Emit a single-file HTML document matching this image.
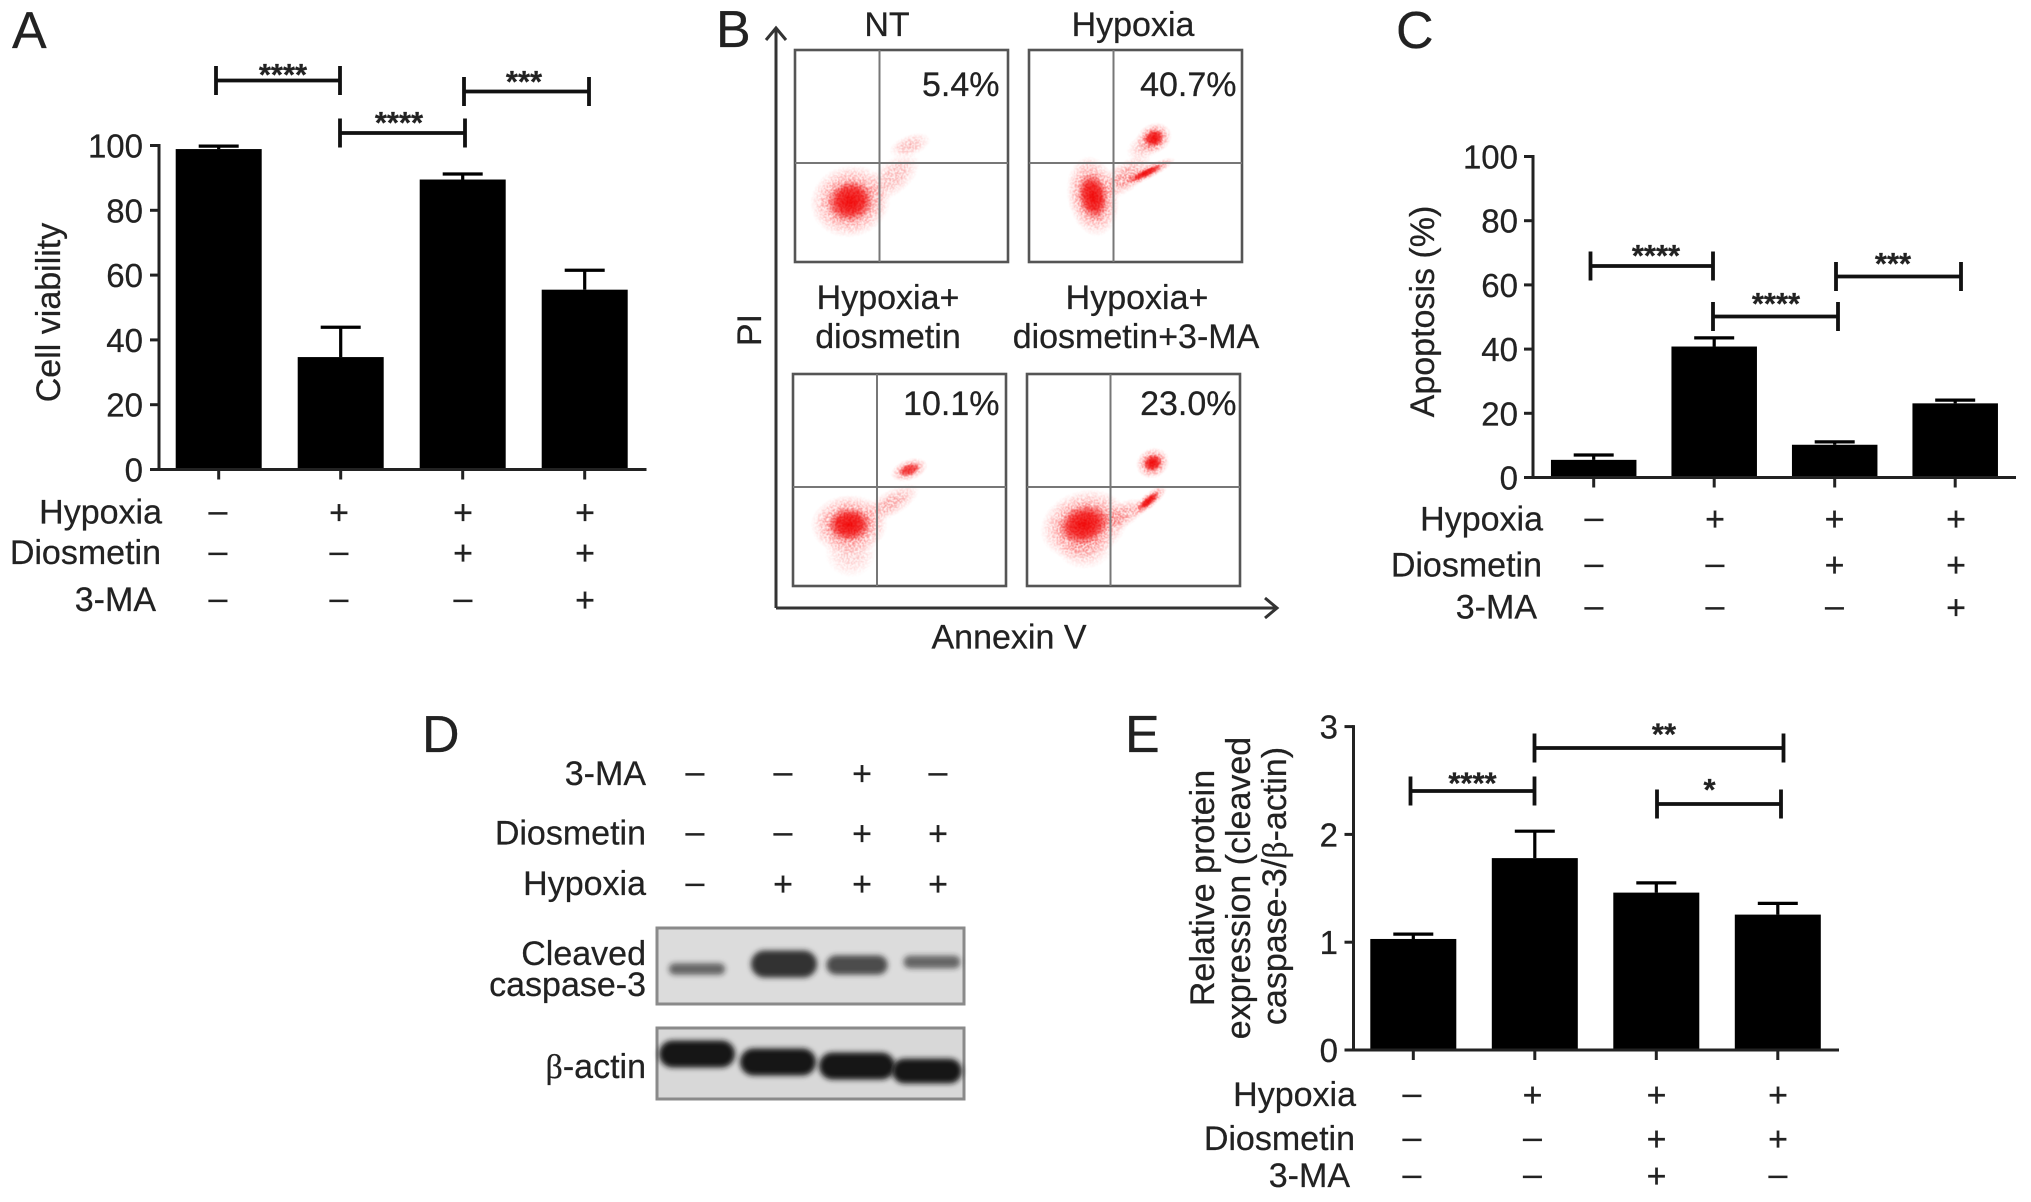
<!DOCTYPE html>
<html lang="en">
<head>
<meta charset="utf-8">
<title>Diosmetin hypoxia figure</title>
<style>
html,body{margin:0;padding:0;background:#fff;}
svg{display:block;}
text{font-family:"Liberation Sans",Arial,sans-serif;fill:#222;font-size:34px;stroke:#222;stroke-width:.25;}
.letter{font-size:52px;}
.tick{font-size:33px;text-anchor:end;}
.end{text-anchor:end;}
.mid{text-anchor:middle;}
.stars{font-size:31px;font-weight:bold;text-anchor:middle;}
.br{stroke:#111;stroke-width:3.8;fill:none;}
.gate{fill:none;stroke:#555;stroke-width:2.6;}
.cross{stroke:#777;stroke-width:2;}
.arrow{stroke:#333;stroke-width:3;fill:none;}
</style>
</head>
<body>
<svg id="figure" xmlns="http://www.w3.org/2000/svg" width="2031" height="1202" viewBox="0 0 2031 1202">
<defs>
<radialGradient id="cloud"><stop offset="0" stop-color="#f00a0a" stop-opacity="1"/><stop offset=".4" stop-color="#f00a0a" stop-opacity=".8"/><stop offset=".72" stop-color="#f22" stop-opacity=".4"/><stop offset="1" stop-color="#f44" stop-opacity="0"/></radialGradient>
<radialGradient id="cloudcore"><stop offset="0" stop-color="#f00000" stop-opacity="1"/><stop offset=".55" stop-color="#f00808" stop-opacity=".8"/><stop offset="1" stop-color="#f01010" stop-opacity="0"/></radialGradient>
<filter id="speckle" x="-10%" y="-10%" width="120%" height="120%">
<feTurbulence type="fractalNoise" baseFrequency="0.7" numOctaves="2" seed="4" result="n"/>
<feColorMatrix in="n" type="matrix" values="0 0 0 0 0 0 0 0 0 0 0 0 0 0 0 0 0 0 14 -6.6" result="m"/>
<feComposite in="SourceGraphic" in2="m" operator="in"/>
<feGaussianBlur stdDeviation="0.45"/>
</filter>
<filter id="blur" x="-30%" y="-80%" width="160%" height="260%"><feGaussianBlur stdDeviation="2.6"/></filter>
</defs>

<text class="letter" x="12" y="48">A</text>
<text class="letter" x="716" y="47">B</text>
<text class="letter" x="1396" y="48">C</text>
<text class="letter" x="422" y="752">D</text>
<text class="letter" x="1125" y="752">E</text>

<!-- Panel A -->
<g id="panel-a">
<text transform="rotate(-90 60 312.500)" x="60" y="312.500" class="mid">Cell viability</text>
<text class="end" x="162" y="523.400">Hypoxia</text>
<text class="end" x="161" y="564">Diosmetin</text>
<text class="end" x="156" y="611">3-MA</text>
<g><path class="br" d="M216 66V95M216 80.500H340M340 66V95"/><text class="stars" x="283" y="85">****</text></g>
<g><path class="br" d="M340 118.500V147.500M340 133H465M465 118.500V147.500"/><text class="stars" x="399" y="133">****</text></g>
<g><path class="br" d="M464 77V106M464 91.500H589M589 77V106"/><text class="stars" x="524" y="92">***</text></g>
</g>

<!-- Panel B -->
<g id="panel-b">
<path class="arrow" d="M776 608V28M766 40L776 28L786 40"/>
<path class="arrow" d="M776 608H1277M1265 598L1277 608L1265 618"/>
<text transform="rotate(-90 761 330)" x="761" y="330" class="mid">PI</text>
<text class="mid" x="1009" y="648.500">Annexin V</text>
<text class="mid" x="887" y="36">NT</text>
<text class="mid" x="1133" y="36">Hypoxia</text>
<text class="mid" x="888" y="309">Hypoxia+</text>
<text class="mid" x="888" y="348">diosmetin</text>
<text class="mid" x="1137" y="309">Hypoxia+</text>
<text class="mid" x="1136" y="348">diosmetin+3-MA</text>
<g id="clouds"></g>
<g><rect class="gate" x="795" y="50" width="213" height="212"/><path class="cross" d="M879.500 50V262M795 163H1008"/></g>
<g><rect class="gate" x="1029" y="50" width="213" height="212"/><path class="cross" d="M1113.500 50V262M1029 163H1242"/></g>
<g><rect class="gate" x="793" y="374" width="213" height="212"/><path class="cross" d="M877 374V586M793 487H1006"/></g>
<g><rect class="gate" x="1027" y="374" width="213" height="212"/><path class="cross" d="M1110.500 374V586M1027 487H1240"/></g>
<text class="end" x="999.500" y="96">5.4%</text>
<text class="end" x="1236.500" y="96">40.7%</text>
<text class="end" x="999.500" y="415">10.1%</text>
<text class="end" x="1236.500" y="415">23.0%</text>
</g>

<!-- Panel C -->
<g id="panel-c">
<text transform="rotate(-90 1434 311.500)" x="1434" y="311.500" class="mid">Apoptosis (%)</text>
<text class="end" x="1543" y="530.500">Hypoxia</text>
<text class="end" x="1542" y="576.500">Diosmetin</text>
<text class="end" x="1537" y="618.500">3-MA</text>
<g><path class="br" d="M1590.500 251.500V280.500M1590.500 266H1713M1713 251.500V280.500"/><text class="stars" x="1656" y="266">****</text></g>
<g><path class="br" d="M1713 302V331M1713 316.500H1838M1838 302V331"/><text class="stars" x="1776" y="314">****</text></g>
<g><path class="br" d="M1836 262V291M1836 276.500H1961M1961 262V291"/><text class="stars" x="1893" y="274">***</text></g>
</g>

<!-- Panel D -->
<g id="panel-d">
<text class="end" x="646" y="785">3-MA</text>
<text class="end" x="646" y="844.500">Diosmetin</text>
<text class="end" x="646" y="895">Hypoxia</text>
<text class="end" x="646" y="965">Cleaved</text>
<text class="end" x="646" y="996">caspase-3</text>
<text class="end" x="646" y="1078"><tspan style="font-family:'Liberation Serif',serif">β</tspan>-actin</text>
<rect x="657" y="928" width="307" height="76" fill="#dcdcdc" stroke="#8a8a8a" stroke-width="3"/>
<rect x="657" y="1028" width="307" height="71" fill="#d8d8d8" stroke="#8a8a8a" stroke-width="3"/>
<g id="bands"></g>
</g>

<!-- Panel E -->
<g id="panel-e">
<text transform="rotate(-90 1214 888)" x="1214" y="888" class="mid">Relative protein</text>
<text transform="rotate(-90 1250 888)" x="1250" y="888" class="mid">expression (cleaved</text>
<text transform="rotate(-90 1286 886)" x="1286" y="886" class="mid">caspase-3/<tspan style="font-family:'Liberation Serif',serif">β</tspan>-actin)</text>
<text class="end" x="1356" y="1106">Hypoxia</text>
<text class="end" x="1355" y="1150">Diosmetin</text>
<text class="end" x="1350" y="1187">3-MA</text>
<g><path class="br" d="M1410.500 776.500V805.500M1410.500 791H1534.500M1534.500 776.500V805.500"/><text class="stars" x="1472.500" y="793.500">****</text></g>
<g><path class="br" d="M1534.500 733.500V762.500M1534.500 748H1783.500M1783.500 733.500V762.500"/><text class="stars" x="1664" y="744.500">**</text></g>
<g><path class="br" d="M1657 789.500V818.500M1657 804H1781M1781 789.500V818.500"/><text class="stars" x="1709.500" y="800">*</text></g>
</g>
</svg>

<script>
// Panel A data
const conditionNames = ['control', 'hypoxia', 'hypoxia-diosmetin', 'hypoxia-diosmetin-3ma'];
const aValues = [98.9, 34.7, 89.5, 55.5];
const aErrors = [0.9, 9.2, 1.7, 6.0];
const aTicks = [0, 20, 40, 60, 80, 100];
// Panel C data
const cValues = [5.5, 40.8, 10.2, 23.1];
const cErrors = [1.5, 2.7, 0.9, 1.0];
const cTicks = [0, 20, 40, 60, 80, 100];
// Panel E data
const eValues = [1.03, 1.78, 1.46, 1.256];
const eErrors = [0.045, 0.25, 0.09, 0.104];
const eTicks = [0, 1, 2, 3];
// Treatment rows
const rowHypoxia = ['–', '+', '+', '+'];
const rowDiosmetin = ['–', '–', '+', '+'];
const rowMaAC = ['–', '–', '–', '+'];
const rowMaDE = ['–', '–', '+', '–'];
// Panel B scatter clouds, in gate units (0 to 1)
const clusterGate = [0, 0, 0, 1, 1, 1, 1, 1, 2, 2, 2, 2, 3, 3, 3, 3, 3];
const clusterX = [0.26, 0.54, 0.46, 0.30, 0.587, 0.55, 0.45, 0.55, 0.264, 0.545, 0.46, 0.27, 0.268, 0.59, 0.57, 0.44, 0.27];
const clusterY = [0.287, 0.55, 0.40, 0.31, 0.584, 0.42, 0.40, 0.55, 0.29, 0.548, 0.39, 0.16, 0.29, 0.58, 0.40, 0.33, 0.18];
const clusterSpreadX = [0.19, 0.10, 0.15, 0.12, 0.085, 0.15, 0.15, 0.10, 0.18, 0.09, 0.15, 0.12, 0.21, 0.08, 0.11, 0.13, 0.13];
const clusterSpreadY = [0.17, 0.05, 0.08, 0.19, 0.07, 0.032, 0.07, 0.06, 0.14, 0.05, 0.06, 0.12, 0.16, 0.07, 0.035, 0.06, 0.10];
const clusterTilt = [-15, -20, -40, -10, -25, -26, -35, -30, -3, -20, -30, 0, -18, -30, -40, -30, 0];
const clusterDensity = [1, 0.4, 0.4, 1, 1, 1, 0.6, 0.4, 1, 0.8, 0.5, 0.3, 1, 1, 1, 0.6, 0.4];
// Panel D relative band densities
const cleavedDensity = [0.3, 1, 0.65, 0.35];
const actinDensity = [1, 1, 1, 0.92];

const NS = 'http://www.w3.org/2000/svg';
function mk(tag, props, parent) {
  const node = document.createElementNS(NS, tag);
  for (const key in props) node.setAttribute(key, props[key]);
  parent.appendChild(node);
  return node;
}

function drawBars(root, values, errors, ticks, cfg) {
  const x = i => cfg.x0 + i * cfg.dx;
  const y = v => cfg.y0 - v * cfg.k;
  const top = ticks[ticks.length - 1];

  values.forEach((v, i) => {
    const bar = mk('rect', {x: x(i) - cfg.barW / 2, y: y(v), width: cfg.barW, height: cfg.y0 - y(v), fill: '#000'}, root);
    
    
    const err = mk('path', {d: 'M' + x(i) + ' ' + y(v) + 'V' + y(v + errors[i]) + 'M' + (x(i) - 20) + ' ' + y(v + errors[i]) + 'H' + (x(i) + 20), stroke: '#000', 'stroke-width': 3.2, fill: 'none'}, root);
    
    
    const xTick = mk('line', {x1: x(i), x2: x(i), y1: cfg.y0, y2: cfg.y0 + 10, stroke: '#222', 'stroke-width': 3}, root);
    
    
  });

  const yAxis = mk('line', {x1: cfg.axisX, x2: cfg.axisX, y1: y(top) - 1.5, y2: cfg.y0, stroke: '#222', 'stroke-width': 3}, root);
  
  
  const xAxis = mk('line', {x1: cfg.axisX - 8, x2: cfg.axisEnd, y1: cfg.y0, y2: cfg.y0, stroke: '#222', 'stroke-width': 3}, root);
  
  

  ticks.forEach(t => {
    const mark = mk('line', {x1: cfg.axisX - 9, x2: cfg.axisX, y1: y(t), y2: y(t), stroke: '#222', 'stroke-width': 3}, root);
    
    
    const label = mk('text', {x: cfg.labelX, y: y(t) + 12, class: 'tick'}, root);
    label.textContent = String(t);
    
    
  });
}

function drawRow(root, symbols, xs, rowY, rowName) {
  symbols.forEach((s, i) => {
    const glyph = mk('text', {x: xs[i], y: rowY + (s === '+' ? 11.5 : 9.5), class: 'mid'}, root);
    glyph.textContent = s;
    
    
  });
}

drawBars(document.getElementById('panel-a'), aValues, aErrors, aTicks, {x0: 218.7, dx: 122, y0: 469.5, k: 3.24, barW: 86, axisX: 159, axisEnd: 646.5, labelX: 143});
drawBars(document.getElementById('panel-c'), cValues, cErrors, cTicks, {x0: 1593.7, dx: 120.5, y0: 477.5, k: 3.21, barW: 85.5, axisX: 1533, axisEnd: 2016, labelX: 1518});
drawBars(document.getElementById('panel-e'), eValues, eErrors, eTicks, {x0: 1413.3, dx: 121.5, y0: 1050, k: 107.8, barW: 86, axisX: 1353.5, axisEnd: 1839, labelX: 1338});

const panelA = document.getElementById('panel-a');
const panelC = document.getElementById('panel-c');
const panelD = document.getElementById('panel-d');
const panelE = document.getElementById('panel-e');
const xsA = [218, 339, 463, 585];
const xsC = [1594, 1715, 1834.5, 1956];
const xsD = [695, 783, 862, 938];
const xsE = [1412, 1532.5, 1656.5, 1778];
drawRow(panelA, rowHypoxia, xsA, 512.4, 'hypoxia');
drawRow(panelA, rowDiosmetin, xsA, 553, 'diosmetin');
drawRow(panelA, rowMaAC, xsA, 600, 'three-ma');
drawRow(panelC, rowHypoxia, xsC, 519, 'hypoxia');
drawRow(panelC, rowDiosmetin, xsC, 565, 'diosmetin');
drawRow(panelC, rowMaAC, xsC, 607.5, 'three-ma');
drawRow(panelD, rowMaDE, xsD, 773.7, 'three-ma');
drawRow(panelD, rowDiosmetin, xsD, 833.5, 'diosmetin');
drawRow(panelD, rowHypoxia, xsD, 884, 'hypoxia');
drawRow(panelE, rowHypoxia, xsE, 1095, 'hypoxia');
drawRow(panelE, rowDiosmetin, xsE, 1139, 'diosmetin');
drawRow(panelE, rowMaDE, xsE, 1176, 'three-ma');

// Flow cytometry clouds
(function () {
  const boxX = [795, 1029, 793, 1027];
  const boxY = [50, 50, 374, 374];
  const W = 213, H = 212;
  const root = document.getElementById('clouds');
  const speck = mk('g', {filter: 'url(#speckle)'}, root);
  
  
  const solid = mk('g', {}, root);
  
  
  clusterGate.forEach((g, i) => {
    const cx = boxX[g] + clusterX[i] * W;
    const cy = boxY[g] + H - clusterY[i] * H;
    const rot = 'rotate(' + clusterTilt[i] + ' ' + cx + ' ' + cy + ')';
    const halo = mk('ellipse', {cx: cx, cy: cy, rx: clusterSpreadX[i] * W, ry: clusterSpreadY[i] * H, transform: rot, fill: 'url(#cloud)', 'fill-opacity': clusterDensity[i]}, speck);
    
    
    if (clusterDensity[i] >= 0.8) {
      const core = mk('ellipse', {cx: cx, cy: cy, rx: clusterSpreadX[i] * W * 0.58, ry: clusterSpreadY[i] * H * 0.58, transform: rot, fill: 'url(#cloudcore)', 'fill-opacity': clusterDensity[i] * 0.9}, solid);
      
      
    }
  });
})();

// Western blot bands
(function () {
  const root = document.getElementById('bands');
  const topX = [697, 784, 857, 932];
  const topY = [969, 964, 965, 962];
  const actX = [697, 778, 857, 927];
  const actY = [1054, 1062, 1066, 1071];
  cleavedDensity.forEach((d, i) => {
    const h = 5 + d * 22, w = 52 + d * 14;
    const band = mk('rect', {x: topX[i] - w / 2, y: topY[i] - h / 2, width: w, height: h, rx: h / 2, fill: '#222', 'fill-opacity': 0.5 + d * 0.42, filter: 'url(#blur)'}, root);
    
    
  });
  actinDensity.forEach((d, i) => {
    const h = 27 * d, w = 76 * d;
    const band = mk('rect', {x: actX[i] - w / 2, y: actY[i] - h / 2, width: w, height: h, rx: h / 2, fill: '#121212', filter: 'url(#blur)'}, root);
    
    
  });
})();
</script>
</body>
</html>
